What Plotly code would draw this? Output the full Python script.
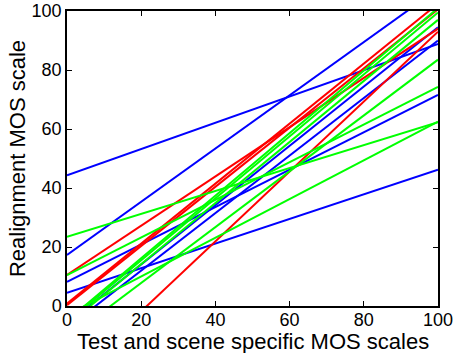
import plotly.graph_objects as go

x_span = [0, 100]

# Blue lines: value at x=0 and value at x=100
blue_at0 = [44.3, 17.3, 8.2, 4.5, -6.0, -7.5]
blue_at100 = [88.8, 107.5, 71.6, 46.2, 94.5, 90.0]

# Red lines
red_at0 = [0.8, 0.3, 10.5, -25.5]
red_at100 = [102.5, 100.6, 94.0, 93.0]

# Green lines
green_at0 = [23.5, 10.5, -3.1, -11.1, -5.5, -6.5, -5.0]
green_at100 = [62.3, 74.3, 62.5, 83.5, 99.5, 97.0, 101.0]

ticks = [0, 20, 40, 60, 80, 100]

fig = go.Figure()

def add_lines(a0, a100, color):
    for s, e in zip(a0, a100):
        fig.add_trace(go.Scatter(x=x_span, y=[s, e], mode="lines",
                                 line=dict(color=color, width=2),
                                 showlegend=False, hoverinfo="skip"))

add_lines(blue_at0, blue_at100, "rgb(0,0,255)")
add_lines(red_at0, red_at100, "rgb(255,0,0)")
add_lines(green_at0, green_at100, "rgb(0,255,0)")

FONT = "Liberation Sans, Arial"

axis_common = dict(
    range=[0, 100], tickvals=ticks, ticktext=[str(t) for t in ticks],
    showgrid=False, zeroline=False, showline=True, linecolor="black",
    linewidth=1.5, mirror="ticks", ticks="inside", ticklen=5,
    tickcolor="black", tickwidth=1, automargin=False,
    tickfont=dict(family=FONT, size=18, color="black"),
)

fig.update_layout(
    width=455, height=353,
    margin=dict(l=67, r=17, t=11, b=47),
    paper_bgcolor="white", plot_bgcolor="white",
    xaxis=dict(**axis_common, ticklabelstandoff=-3),
    yaxis=dict(**axis_common,
               title=dict(text="Realignment MOS scale",
                          font=dict(family=FONT, size=22, color="black"),
                          standoff=0)),
)

fig.add_annotation(
    text="Test and scene specific MOS scales",
    xref="paper", yref="paper", x=0.5, y=-0.122,
    xanchor="center", yanchor="middle", showarrow=False,
    font=dict(family=FONT, size=22, color="black"),
)

fig.write_html("out.html")
